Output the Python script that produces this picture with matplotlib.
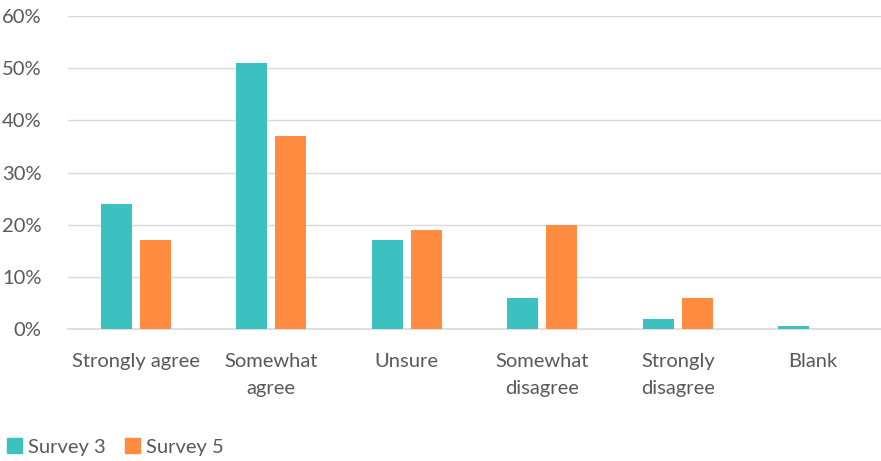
import matplotlib
matplotlib.use("Agg")
import matplotlib.pyplot as plt
import numpy as np
from matplotlib.patches import Patch

categories = ["Strongly agree", "Somewhat\nagree", "Unsure", "Somewhat\ndisagree", "Strongly\ndisagree", "Blank"]
survey3 = [24, 51, 17, 6, 2, 0.5]
survey5 = [17, 37, 19, 20, 6, 0]
yticks = [0, 10, 20, 30, 40, 50, 60]

c3 = "#3BC2C0"
c5 = "#FF8C40"
txt = "#595959"

plt.rcParams['font.family'] = ['Lato', 'DejaVu Sans']
fs = 14.5

fig = plt.figure(figsize=(8.81, 4.61), dpi=100)
W, H = 881, 461
ax = fig.add_axes([68 / W, 1 - 329 / H, (881 - 68) / W, (329 - 16) / H])

x = np.arange(len(categories))
bw = 0.229
gap = 0.06
ax.bar(x - (bw + gap) / 2, survey3, bw, color=c3, zorder=3)
ax.bar(x + (bw + gap) / 2, survey5, bw, color=c5, zorder=3)

ax.set_xlim(-0.5, len(categories) - 0.5)
ax.set_ylim(0, 60)
ax.set_yticks(yticks)
ax.set_yticklabels([f"{v}%" for v in yticks], color=txt, fontsize=fs)
ax.set_xticks(x)
ax.set_xticklabels(categories, color=txt, fontsize=fs, linespacing=1.75)
ax.tick_params(axis='both', length=0)
ax.tick_params(axis='y', pad=19)
ax.tick_params(axis='x', pad=17)
ax.grid(axis='y', color="#D9D9D9", linewidth=1, zorder=0)
for s in ["top", "right", "left"]:
    ax.spines[s].set_visible(False)
ax.spines["bottom"].set_color("#D9D9D9")
ax.spines["bottom"].set_linewidth(1.2)

handles = [Patch(color=c3, label="Survey 3"), Patch(color=c5, label="Survey 5")]
fig.legend(handles=handles, loc="center left", bbox_to_anchor=(7 / W, 1 - 447 / H),
           ncol=2, frameon=False, fontsize=fs, labelcolor=txt,
           handlelength=0.75, handleheight=0.75, handletextpad=0.3, columnspacing=0.95,
           borderaxespad=0, borderpad=0.0)

fig.savefig("out.png", dpi=100)
